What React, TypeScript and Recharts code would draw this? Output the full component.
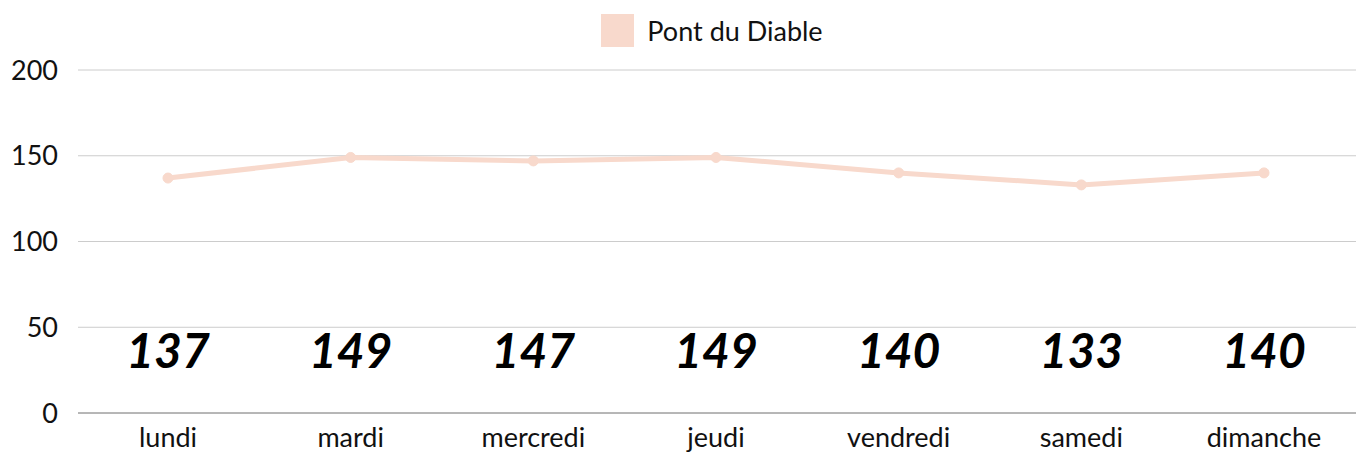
import React from "react";
import { LineChart, Line, XAxis, YAxis, CartesianGrid, Legend, LabelList } from "recharts";

const categories = ["lundi", "mardi", "mercredi", "jeudi", "vendredi", "samedi", "dimanche"];
const values = [137, 149, 147, 149, 140, 133, 140];
const yTicks = [0, 50, 100, 150, 200];
const seriesName = "Pont du Diable";
const color = "#f8d9cc";

const data = categories.map((c, i) => ({ day: c, v: values[i] }));

const W = 1360;
const H = 456;
const PLOT_BOTTOM = 413;

const ValueLabel = (props: any) => {
  const { x, value } = props;
  return (
    <text x={x} y={PLOT_BOTTOM - 45} textAnchor="middle" fontFamily="Lato" fontWeight={700} fontStyle="italic" fontSize={48} fill="#000">
      {value}
    </text>
  );
};

const LegendContent = () => (
  <div style={{ display: "flex", justifyContent: "center", alignItems: "center", height: 40, paddingLeft: 68, fontFamily: "Lato", fontSize: 27, color: "#111" }}>
    <span style={{ display: "inline-block", width: 33, height: 33, background: color, marginRight: 13 }} />
    <span>{seriesName}</span>
  </div>
);

export default function App() {
  return (
    <div style={{ position: "absolute", left: 0, top: 0, background: "#fff" }}>
      <LineChart width={W} height={H} data={data} margin={{ top: 30, right: 4, bottom: 0, left: 0 }}>
        <CartesianGrid vertical={false} stroke="#cccccc" />
        <Legend verticalAlign="top" content={<LegendContent />} wrapperStyle={{ top: 10 }} />
        <XAxis dataKey="day" height={43} tickLine={false} stroke="#888" padding={{ left: 90, right: 92 }} tick={{ fill: "#111", fontFamily: "Lato", fontSize: 27 }} tickMargin={9} />
        <YAxis domain={[0, 200]} ticks={yTicks} width={78} axisLine={false} tickLine={false} tickMargin={14} tick={{ fill: "#111", fontFamily: "Lato", fontSize: 27 }} />
        <Line dataKey="v" name={seriesName} stroke={color} strokeWidth={5} dot={{ r: 5, fill: color, stroke: color, strokeWidth: 1 }} isAnimationActive={false}>
          <LabelList dataKey="v" content={<ValueLabel />} />
        </Line>
      </LineChart>
    </div>
  );
}
